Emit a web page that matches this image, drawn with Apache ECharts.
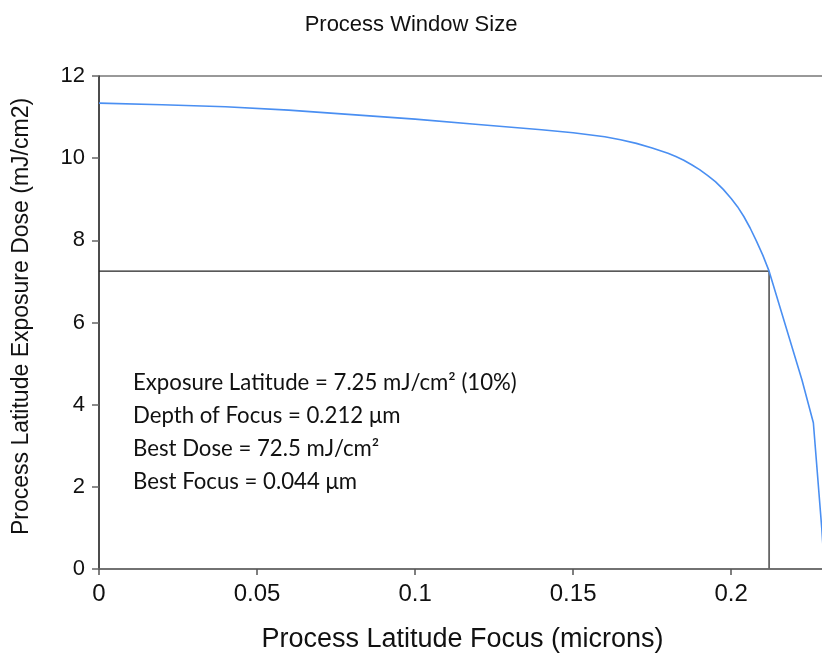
<!DOCTYPE html>
<html>
<head>
<meta charset="utf-8">
<script src="https://cdn.jsdelivr.net/npm/echarts@6/dist/echarts.min.js"></script>
<style>
  html, body { margin: 0; padding: 0; background: #ffffff; }
  #chart { width: 822px; height: 653px; }
</style>
</head>
<body>
<div id="chart"></div>
<script>
// Process window: latitude focus (microns) vs. latitude exposure dose (mJ/cm2)
const focus = [0, 0.02, 0.04, 0.06, 0.08, 0.10, 0.12, 0.14, 0.15, 0.16, 0.165, 0.17, 0.175, 0.18, 0.1825, 0.185, 0.1875, 0.19, 0.1925, 0.195, 0.1975, 0.20, 0.202, 0.204, 0.206, 0.208, 0.21, 0.212, 0.2224, 0.226, 0.2287, 0.2295];
const dose = [11.34, 11.30, 11.25, 11.17, 11.06, 10.95, 10.82, 10.69, 10.62, 10.52, 10.45, 10.36, 10.25, 10.12, 10.04, 9.95, 9.84, 9.72, 9.58, 9.43, 9.24, 9.02, 8.82, 8.58, 8.30, 7.98, 7.64, 7.25, 4.6, 3.56, 0.95, 0];

// Selected operating window
const exposureLatitude = 7.25;
const depthOfFocus = 0.212;

const xTicks = [0, 0.05, 0.1, 0.15, 0.2];
const yTicks = [0, 2, 4, 6, 8, 10, 12];

const infoLines = [
  'Exposure Latitude = 7.25 mJ/cm² (10%)',
  'Depth of Focus = 0.212 μm',
  'Best Dose = 72.5 mJ/cm²',
  'Best Focus = 0.044 μm'
];

const chart = echarts.init(document.getElementById('chart'), null, { renderer: 'canvas' });

const curve = focus.map((f, i) => [f, dose[i]]);

chart.setOption({
  animation: false,
  backgroundColor: '#ffffff',
  title: {
    text: 'Process Window Size',
    left: 'center',
    top: 9,
    textStyle: { fontFamily: 'Liberation Sans', fontSize: 22, fontWeight: 'normal', color: '#111' }
  },
  grid: {
    left: 99, top: 76, width: 727, height: 493,
    outerBoundsMode: 'none',
    containLabel: false,
    show: true, borderColor: '#333', borderWidth: 1, backgroundColor: 'transparent'
  },
  xAxis: {
    type: 'value',
    min: 0, max: 0.23, interval: 0.05,
    name: 'Process Latitude Focus (microns)',
    nameLocation: 'middle',
    nameGap: 57,
    nameTextStyle: { fontFamily: 'Liberation Sans', fontSize: 27, color: '#111' },
    axisLine: { show: true, onZero: false, lineStyle: { color: '#666', width: 1.5 } },
    axisTick: { show: true, length: 6, lineStyle: { color: '#555', width: 1.5 } },
    axisLabel: {
      margin: 13, showMaxLabel: false,
      fontFamily: 'Liberation Sans', fontSize: 24, color: '#111',
      formatter: v => (xTicks.some(t => Math.abs(t - v) < 1e-9) ? String(+v.toFixed(2)) : '')
    },
    splitLine: { show: false }
  },
  yAxis: {
    type: 'value',
    min: 0, max: 12, interval: 2,
    name: 'Process Latitude Exposure Dose (mJ/cm2)',
    nameLocation: 'middle',
    nameGap: 66,
    nameTextStyle: { fontFamily: 'Liberation Sans', fontSize: 23, color: '#111', padding: [0, 0, 0, 12] },
    axisLine: { show: true, onZero: false, lineStyle: { color: '#333', width: 1.5 } },
    axisTick: { show: true, length: 7, lineStyle: { color: '#666', width: 1.5 } },
    axisLabel: {
      margin: 14,
      fontFamily: 'Liberation Sans', fontSize: 22, color: '#111',
      formatter: v => (yTicks.includes(v) ? String(v) : '')
    },
    splitLine: { show: false }
  },
  series: [
    {
      name: 'window',
      type: 'line',
      data: curve,
      showSymbol: false,
      smooth: false,
      lineStyle: { color: '#4A8FF2', width: 1.6 },
      z: 3
    },
    {
      name: 'latitude',
      type: 'line',
      data: [[0, exposureLatitude], [depthOfFocus, exposureLatitude]],
      showSymbol: false,
      lineStyle: { color: '#222', width: 1.3 },
      z: 2
    },
    {
      name: 'depth',
      type: 'line',
      data: [[depthOfFocus, exposureLatitude], [depthOfFocus, 0]],
      showSymbol: false,
      lineStyle: { color: '#666', width: 1.8 },
      z: 2
    }
  ],
  graphic: [
    {
      type: 'text',
      left: 133,
      top: 366,
      style: {
        text: infoLines.join('\n'),
        fontFamily: 'Lato',
        fontSize: 22.2,
        lineHeight: 33,
        fill: '#111'
      }
    }
  ]
});
</script>
</body>
</html>
